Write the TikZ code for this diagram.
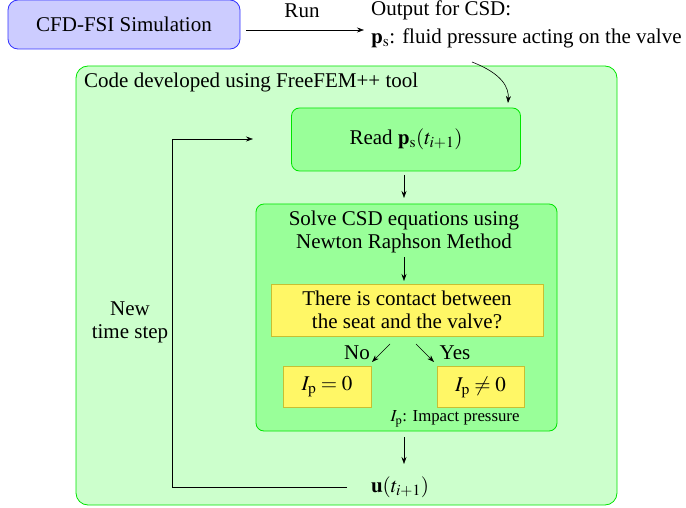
\documentclass[tikz,border=0pt]{standalone}
\usepackage{mathptmx}
\usepackage[no-math]{fontspec}
\setmainfont{Liberation Serif}
\usetikzlibrary{arrows.meta}
\begin{document}
\begin{tikzpicture}[x=1pt,y=-1pt,
  every node/.style={font=\rmfamily\fontsize{21}{23}\selectfont},
  arr/.style={-{Stealth[length=7pt,width=5pt]}, line width=0.6pt},
  box/.style={draw, rounded corners=8pt, line width=0.8pt, inner sep=0pt},
  ybox/.style={draw=yellow!75!black, fill=yellow!60, line width=0.8pt, inner sep=0pt},
  gborder/.style={draw=green!90!black},
]
\useasboundingbox (0,0) rectangle (686,508);
% top
\node[box, draw=blue!80, fill=blue!20, rounded corners=10pt, minimum width=232pt, minimum height=49pt] (cfd) at (124,24.5) {CFD-FSI Simulation};
\coordinate (runend) at (364,30);
\draw[arr] (cfd.east |- runend) ++(6,0) coordinate (runstart) -- (runend);
\node (run) at (302,11) {Run};
\node[anchor=west, inner sep=0pt] (out1) at (371,10) {Output for CSD:};
\node[anchor=west, inner sep=0pt] (out2) at (371,38) {$\mathbf{p}_\mathrm{s}$: fluid pressure acting on the valve};
% outer box
\node[box, gborder, fill=green!20, rounded corners=12pt, minimum width=541pt, minimum height=439pt] (outer) at (346.5,285.5) {};
\node[anchor=west, inner sep=0pt] (code) at (84,82) {Code developed using FreeFEM++ tool};
% read
\node[box, gborder, fill=green!40, minimum width=229pt, minimum height=63pt] (read) at (406,139.5) {Read $\mathbf{p}_\mathrm{s}(t_{i+1})$};
\coordinate (cstart) at (472,62);
\coordinate (cend) at (508,103);
\draw[arr] (cstart) .. controls (503,74) and (509,88) .. (cend);
% solve
\node[box, gborder, fill=green!40, minimum width=301pt, minimum height=227pt] (solve) at (406.5,317.5) {};
\node[align=center, inner sep=0pt] (solvet) at (404,232) {Solve CSD equations using\\Newton Raphson Method};
\coordinate (a1s) at (404,175);
\coordinate (a1e) at (404,198);
\draw[arr] (a1s) -- (a1e);
% yellow question
\node[ybox, minimum width=272pt, minimum height=52pt, align=center] (q) at (407,310) {There is contact between\\ the seat and the valve?};
\coordinate (a2s) at (404,257);
\coordinate (a2e) at (404,281);
\draw[arr] (a2s) -- (a2e);
% answers
\node[ybox, minimum width=88pt, minimum height=41pt] (no) at (327,387) {$I_\mathrm{p}=0$};
\node[ybox, minimum width=87pt, minimum height=41pt] (yes) at (480.5,387) {$I_\mathrm{p}\neq0$};
\coordinate (nos) at (390,344);
\coordinate (yess) at (416,344);
\coordinate (noe) at (372,362);
\coordinate (yese) at (434,362);
\draw[arr] (nos) -- (noe);
\draw[arr] (yess) -- (yese);
\node (nol) at (357,353) {No};
\node (yesl) at (455,353) {Yes};
\node[font=\rmfamily\fontsize{16.8}{19}\selectfont] (ipnote) at (455,419) {$I_\mathrm{p}$: Impact pressure};
% u
\node (u) at (400,487) {$\mathbf{u}(t_{i+1})$};
\coordinate (a3s) at (404,437);
\coordinate (a3e) at (404,464);
\draw[arr] (a3s) -- (a3e);
% loop
\coordinate (uleft) at (347,487);
\coordinate (loopc) at (172,487);
\coordinate (readin) at (253,139);
\draw[line width=0.6pt] (uleft) -- (loopc) -- (loopc |- readin);
\draw[arr] (loopc |- readin) -- (readin);
\node[align=center, inner sep=0pt] (nts) at (130,322) {New\\time step};
\end{tikzpicture}
\end{document}
